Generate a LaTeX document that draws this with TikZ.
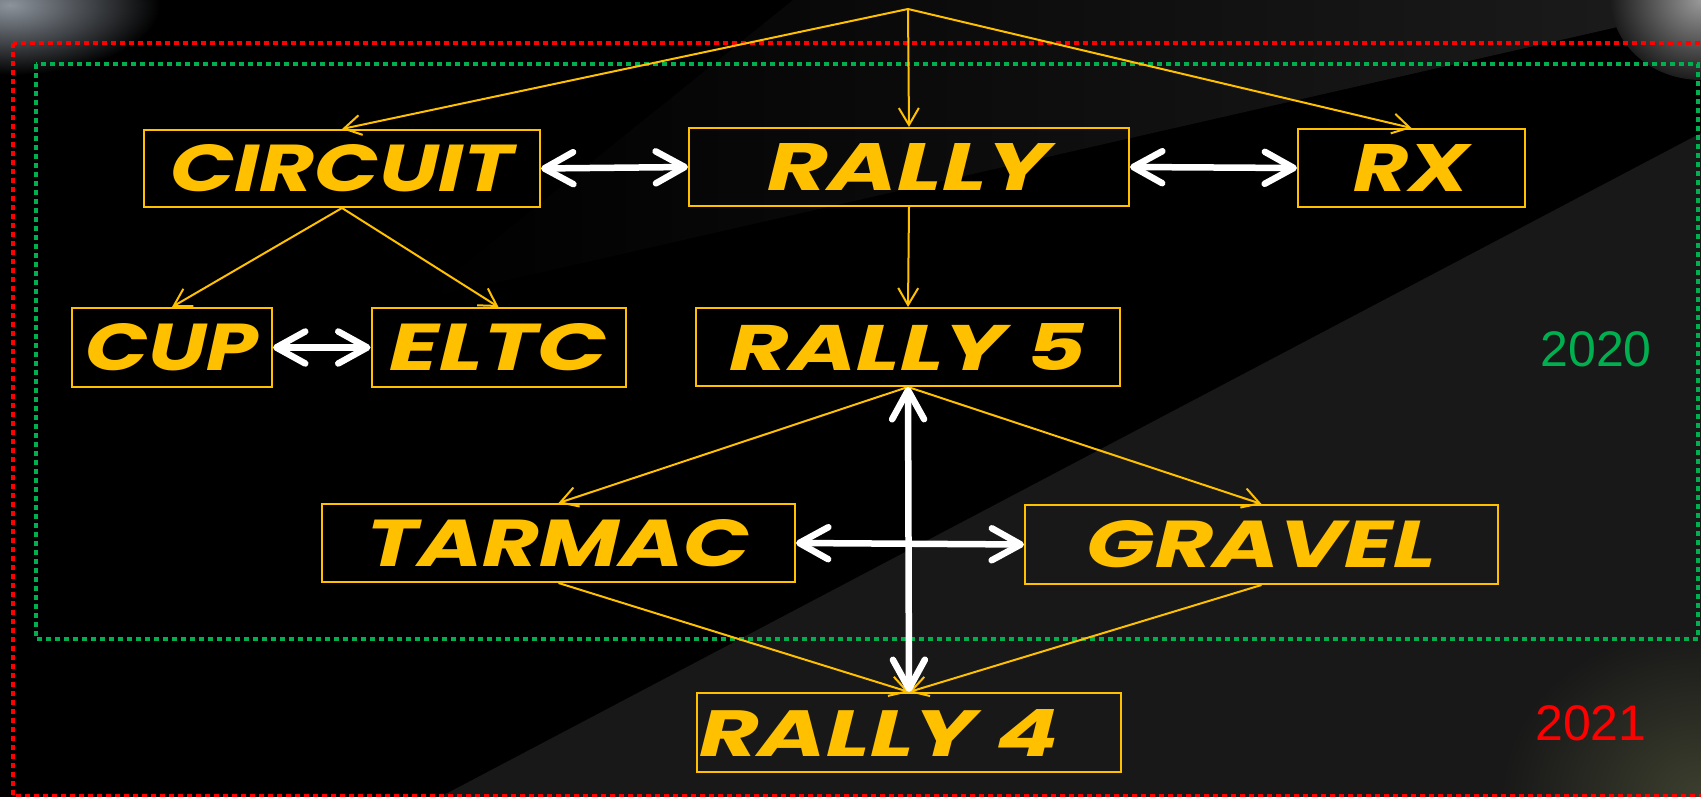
\documentclass[tikz,border=0pt]{standalone}
\usepackage{fontspec}
\setmainfont{Liberation Sans}
\newfontfamily\boxfont{Poppins}
\usetikzlibrary{arrows.meta}
\definecolor{ylw}{HTML}{FFC000}
\definecolor{grn}{HTML}{00B050}
\definecolor{rd}{HTML}{FF0000}
\definecolor{bgA}{HTML}{1C1C1C}
\definecolor{bgB}{HTML}{181818}
\definecolor{photoA}{HTML}{8C939C}
\definecolor{photoB}{HTML}{3C3F2E}
\newcommand\boxtext[2]{\resizebox{#1pt}{47pt}{\boxfont\bfseries\itshape #2}}
\tikzset{
  ybox/.style={draw=ylw, line width=2pt, inner sep=0pt, text=ylw},
  yarrow/.style={draw=ylw, line width=2pt, -{Straight Barb[length=17pt,width=20pt]}},
  warrow/.style={draw=white, line width=6.5pt, line cap=round,
    {Straight Barb[length=29pt,width=32pt,round]}-{Straight Barb[length=29pt,width=32pt,round]}},
  reddash/.style={draw=rd, line width=4.5pt, dash pattern=on 5pt off 4pt},
  grndash/.style={draw=grn, line width=4.5pt, dash pattern=on 5pt off 4pt},
  year/.style={font=\fontsize{50}{60}\selectfont, inner sep=0pt}
}
\begin{document}
\begin{tikzpicture}[x=1pt,y=-1pt]
\useasboundingbox (0,0) rectangle (1701,797);
\clip (0,0) rectangle (1701,797);
% background
\fill[black] (0,0) rectangle (1701,797);
\shade[left color=black, middle color=bgA, right color=bgA]
  (793,0) -- (1701,0) -- (1701,8) -- (420,300) -- cycle;
\fill[bgB] (1701,133) -- (1701,797) -- (440,797) -- cycle;
\shade[inner color=photoA, outer color=black] (10,5) ellipse (150pt and 70pt);
\shade[inner color=gray!80, outer color=bgA] (1701,0) ellipse (90pt and 80pt);
\shade[inner color=photoB, outer color=bgB] (1701,797) ellipse (200pt and 170pt);
% dashed frames
\draw[reddash] (13,43) rectangle (1710,796);
\draw[grndash] (36,64) rectangle (1698,639);
% nodes
\node[ybox, minimum width=396pt, minimum height=77pt] (circuit) at (342,168.5) {\boxtext{343}{CIRCUIT}};
\node[ybox, minimum width=440pt, minimum height=78pt] (rally) at (909,167) {\boxtext{282}{RALLY}};
\node[ybox, minimum width=227pt, minimum height=78pt] (rx) at (1411.5,168) {\boxtext{116}{RX}};
\node[ybox, minimum width=200pt, minimum height=79pt] (cup) at (172,347.5) {\boxtext{173}{CUP}};
\node[ybox, minimum width=254pt, minimum height=79pt] (eltc) at (498.5,347.5) {\boxtext{217}{ELTC}};
\node[ybox, minimum width=424pt, minimum height=78pt] (rally5) at (908,347) {\boxtext{356}{RALLY 5}};
\node[ybox, minimum width=473pt, minimum height=78pt] (tarmac) at (558.5,543) {\boxtext{384}{TARMAC}};
\node[ybox, minimum width=473pt, minimum height=79pt] (gravel) at (1261.5,544.5) {\boxtext{349}{GRAVEL}};
\node[ybox, minimum width=424pt, minimum height=79pt] (rally4) at (909,732.5) {\makebox[420pt][l]{\boxtext{360}{RALLY 4}}};
% years
\node[year, text=grn] (y2020) at (1596,349) {2020};
\node[year, text=rd] (y2021) at (1591,723) {2021};
% yellow arrows
\coordinate (apex) at (908,9);
\draw[yarrow] (apex) -- (circuit.north);
\draw[yarrow] (apex) -- (rally.north);
\draw[yarrow] (apex) -- (rx.north);
\draw[yarrow] (circuit.south) -- (cup.north);
\draw[yarrow] (circuit.south) -- (eltc.north);
\draw[yarrow] (rally.south) -- (rally5.north);
\draw[yarrow] (rally5.south) -- (tarmac.north);
\draw[yarrow] (rally5.south) -- (gravel.north);
\draw[yarrow] (tarmac.south) -- (rally4.north);
\draw[yarrow] (gravel.south) -- (rally4.north);
% white double arrows
\draw[warrow] (circuit.east) -- (rally.west);
\draw[warrow] (rally.east) -- (rx.west);
\draw[warrow] (cup.east) -- (eltc.west);
\draw[warrow] (tarmac.east) -- (gravel.west);
\draw[warrow] (rally5.south) -- (rally4.north);
\end{tikzpicture}
\end{document}
